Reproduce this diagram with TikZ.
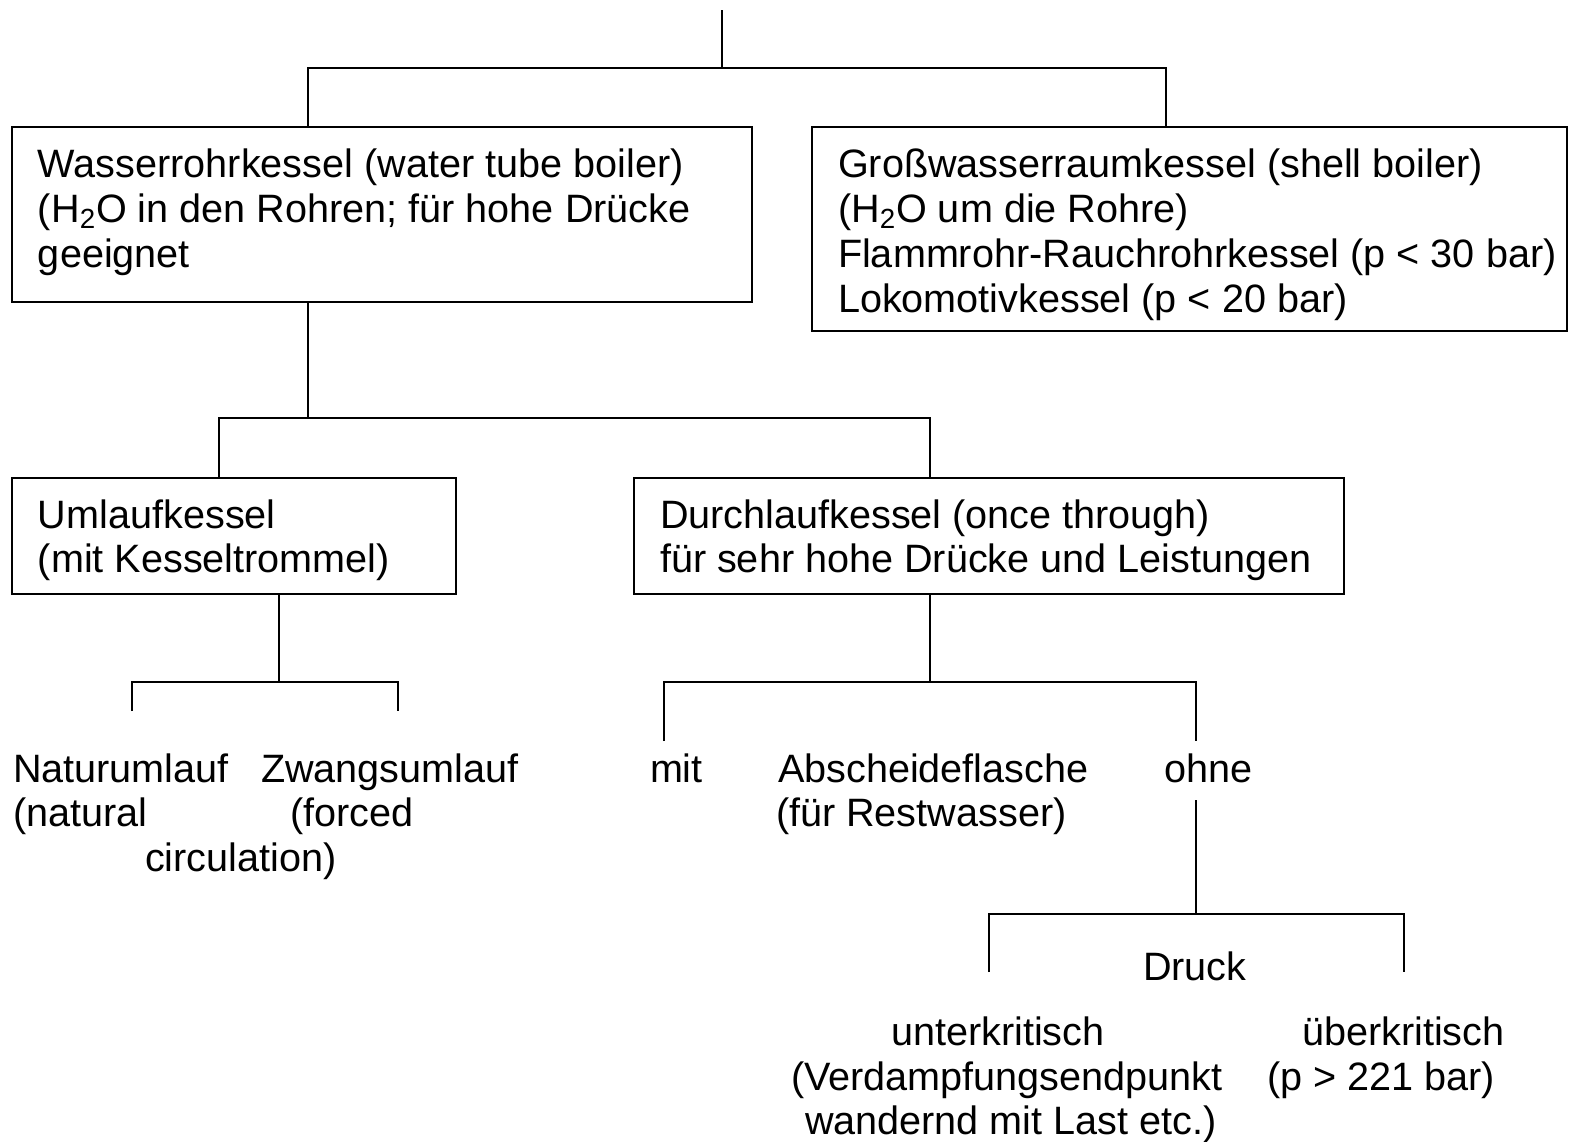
\documentclass[tikz,border=0pt]{standalone}
\usepackage{fontspec}
\setmainfont{Liberation Sans}
\begin{document}
\begin{tikzpicture}[x=0.5pt,y=-0.5pt,
  every node/.style={inner sep=0pt, outer sep=0pt},
  box/.style={draw, line width=1.1pt, anchor=north west},
  lbl/.style={anchor=base west, font=\fontsize{19.8}{22.5}\selectfont},
  conn/.style={line width=1.1pt}]
\useasboundingbox (0,0) rectangle (1569,1141);
% boxes
\node[box, minimum width=370pt, minimum height=87.5pt] (b1) at (12,127) {};
\node[box, minimum width=377.5pt, minimum height=102pt] (b2) at (812,127) {};
\node[box, minimum width=222pt, minimum height=58pt] (b3) at (12,478) {};
\node[box, minimum width=355pt, minimum height=58pt] (b4) at (634,478) {};
% box texts
\node[lbl] (t11) at (38,177) {Wasserrohrkessel (water tube boiler)};
\node[lbl] (t12) at (38,222) {(H\textsubscript{2}O in den Rohren; für hohe Drücke};
\node[lbl] (t13) at (38,267) {geeignet};
\node[lbl] (t21) at (838,177) {Großwasserraumkessel (shell boiler)};
\node[lbl] (t22) at (838,222) {(H\textsubscript{2}O um die Rohre)};
\node[lbl] (t23) at (838,267) {Flammrohr-Rauchrohrkessel (p < 30 bar)};
\node[lbl] (t24) at (838,312) {Lokomotivkessel (p < 20 bar)};
\node[lbl] (t31) at (38,528) {Umlaufkessel};
\node[lbl] (t32) at (38,572) {(mit Kesseltrommel)};
\node[lbl] (t41) at (660,528) {Durchlaufkessel (once through)};
\node[lbl] (t42) at (660,572) {für sehr hohe Drücke und Leistungen};
% leaf texts
\node[lbl] (n1) at (13,782) {Naturumlauf};
\node[lbl] (n2) at (13,826) {(natural};
\node[lbl] (n3) at (145,871) {circulation)};
\node[lbl] (z1) at (261,782) {Zwangsumlauf};
\node[lbl] (z2) at (290,826) {(forced};
\node[lbl] (mit) at (650,782) {mit};
\node[lbl] (a1) at (778,782) {Abscheideflasche};
\node[lbl] (a2) at (776,826) {(für Restwasser)};
\node[lbl] (ohne) at (1164,782) {ohne};
\node[lbl] (druck) at (1143,980) {Druck};
\node[lbl] (u1) at (891,1045) {unterkritisch};
\node[lbl] (u2) at (791,1090) {(Verdampfungsendpunkt};
\node[lbl] (u3) at (805,1134) {wandernd mit Last etc.)};
\node[lbl] (ue1) at (1302,1045) {überkritisch};
\node[lbl] (ue2) at (1267,1090) {(p > 221 bar)};
% helper coordinates
\coordinate (x308) at (308,0);
\coordinate (x1166) at (1166,0);
\coordinate (x219) at (219,0);
\coordinate (x930) at (930,0);
\coordinate (x279) at (279,0);
\coordinate (top) at (722,10);
\coordinate (h1) at (722,68);
\coordinate (h2) at (308,418);
\coordinate (h3) at (279,682);
\coordinate (h4) at (930,682);
\coordinate (h5) at (1196,914);
\coordinate (l1) at (132,711);
\coordinate (l2) at (398,711);
\coordinate (m1) at (664,741);
\coordinate (m2) at (1196,741);
\coordinate (o1) at (1196,800);
\coordinate (d1) at (989,972);
\coordinate (d2) at (1404,972);
% connectors
\draw[conn] (top) -- (h1);
\draw[conn] (b1.north -| x308) |- (h1) -| (b2.north -| x1166);
\draw[conn] (b1.south -| x308) -- (h2);
\draw[conn] (b3.north -| x219) |- (h2) -| (b4.north -| x930);
\draw[conn] (b3.south -| x279) -- (h3);
\draw[conn] (l1) |- (h3) -| (l2);
\draw[conn] (b4.south -| x930) -- (h4);
\draw[conn] (m1) |- (h4) -| (m2);
\draw[conn] (o1) -- (h5);
\draw[conn] (d1) |- (h5) -| (d2);
\end{tikzpicture}
\end{document}
